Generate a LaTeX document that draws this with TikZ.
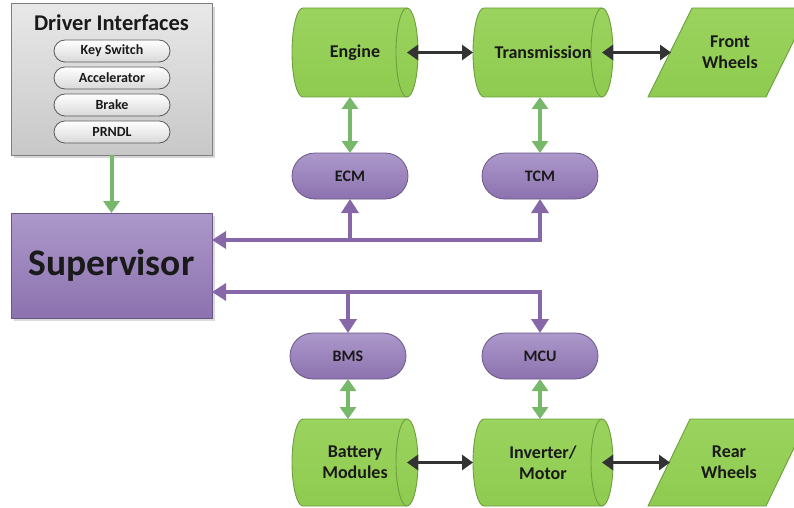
\documentclass[tikz,border=0pt]{standalone}
\usepackage{fontspec}
\setmainfont{Carlito}
\usetikzlibrary{arrows.meta,shapes.misc,calc}

\definecolor{txt}{HTML}{1A1A1A}
\definecolor{grayTop}{HTML}{E8E8E8}
\definecolor{grayBot}{HTML}{C8C8C8}
\definecolor{grayLine}{HTML}{7F7F7F}
\definecolor{pillLine}{HTML}{5A5A5A}
\definecolor{purTop}{HTML}{AC98CA}
\definecolor{purBot}{HTML}{8C72AF}
\definecolor{purLine}{HTML}{6A5787}
\definecolor{purArrow}{HTML}{8667A8}
\definecolor{grnFill}{HTML}{8FCB50}
\definecolor{grnTop}{HTML}{9AD35E}
\definecolor{grnLine}{HTML}{6E9E3E}
\definecolor{grnArrow}{HTML}{78B86A}
\definecolor{darkArrow}{HTML}{333333}

\begin{document}
\begin{tikzpicture}[x=1pt,y=1pt,
  every node/.style={inner sep=0pt,outer sep=0pt,text=txt},
  bfs/.style={font=\bfseries\fontsize{#1}{#1}\selectfont},
  drvbox/.style={rectangle,draw=grayLine,line width=1pt,top color=grayTop,bottom color=grayBot,
    minimum width=201pt,minimum height=151pt},
  pill/.style={rounded rectangle,draw=pillLine,line width=0.8pt,top color=white,bottom color=grayTop!85!gray,
    minimum width=116pt,minimum height=22pt,bfs=14},
  supbox/.style={rectangle,draw=purLine,line width=0.8pt,top color=purTop,bottom color=purBot,
    minimum width=201pt,minimum height=105pt,bfs=37.5},
  ctl/.style={rounded rectangle,draw=purLine,line width=0.8pt,top color=purTop,bottom color=purBot,
    minimum width=116pt,minimum height=46pt,bfs=16},
  shell/.style={draw=grnLine,line width=0.9pt,top color=grnTop,bottom color=grnFill},
  rim/.style={draw=grnLine,line width=0.9pt},
  lbl/.style={rectangle,align=center,bfs=18,execute at begin node={\setlength{\baselineskip}{21pt}}},
  garr/.style={draw=grnArrow,line width=4pt,{Triangle[length=12pt,width=16pt]}-{Triangle[length=12pt,width=16pt]}},
  parr/.style={draw=purArrow,line width=4.5pt,line join=miter},
  ptip/.style={-{Triangle[length=14pt,width=17pt]}},
  ptips/.style={{Triangle[length=14pt,width=17pt]}-{Triangle[length=14pt,width=17pt]}},
  barr/.style={draw=darkArrow,line width=3.3pt,{Triangle[length=11pt,width=15pt]}-{Triangle[length=11pt,width=15pt]}}
]
\useasboundingbox (0,0) rectangle (794,507);
\clip (0,0) rectangle (794,507);

% ---------- driver interfaces ----------
\fill[black!40,opacity=.4] (14,349) rectangle (215,500);
\node[drvbox] (drv) at (111.5,427.5) {};
\node[bfs=22.5] (drvtitle) at (111.5,484) {Driver Interfaces};
\node[pill] (key) at (112,456) {Key Switch};
\node[pill] (acc) at (112,429) {Accelerator};
\node[pill] (brk) at (112,402) {Brake};
\node[pill] (prn) at (112,375) {PRNDL};

% ---------- supervisor ----------
\fill[black!40,opacity=.35] (14,186) rectangle (215,291);
\node[supbox] (sup) at (111.5,241.5) {Supervisor};

% ---------- control modules ----------
\node[ctl] (ecm) at (350,331) {ECM};
\node[ctl] (tcm) at (540,331) {TCM};
\node[ctl] (bms) at (348,151) {BMS};
\node[ctl] (mcu) at (540,151) {MCU};

% ---------- front drivetrain (cylinders + wheels) ----------
% Engine
\path[shell] (303,499) -- (407,499) arc[start angle=90,end angle=-90,x radius=11,y radius=44.5]
  -- (303,410) arc[start angle=270,end angle=90,x radius=11,y radius=44.5] -- cycle;
\draw[rim] (407,499) arc[start angle=90,end angle=270,x radius=11,y radius=44.5];
\node[lbl,minimum width=126pt,minimum height=89pt] (eng) at (355,454.5) {Engine};
% Transmission
\path[shell] (484,499) -- (602,499) arc[start angle=90,end angle=-90,x radius=11,y radius=44.5]
  -- (484,410) arc[start angle=270,end angle=90,x radius=11,y radius=44.5] -- cycle;
\draw[rim] (602,499) arc[start angle=90,end angle=270,x radius=11,y radius=44.5];
\node[lbl,minimum width=140pt,minimum height=89pt] (trn) at (543,454.5) {Transmission};
% Front wheels
\path[shell] (648,410) -- (692,499) -- (810,499) -- (766,410) -- cycle;
\node[lbl,minimum width=118pt,minimum height=89pt] (fw) at (730,454.5) {Front\\Wheels};

% ---------- rear drivetrain ----------
% Battery modules
\path[shell] (303,88) -- (407,88) arc[start angle=90,end angle=-90,x radius=11,y radius=43.5]
  -- (303,1) arc[start angle=270,end angle=90,x radius=11,y radius=43.5] -- cycle;
\draw[rim] (407,88) arc[start angle=90,end angle=270,x radius=11,y radius=43.5];
\node[lbl,minimum width=126pt,minimum height=87pt] (bat) at (355,44.5) {Battery\\Modules};
% Inverter / motor
\path[shell] (484,88) -- (602,88) arc[start angle=90,end angle=-90,x radius=11,y radius=43.5]
  -- (484,1) arc[start angle=270,end angle=90,x radius=11,y radius=43.5] -- cycle;
\draw[rim] (602,88) arc[start angle=90,end angle=270,x radius=11,y radius=43.5];
\node[lbl,minimum width=140pt,minimum height=87pt] (inv) at (543,44.5) {Inverter/\\Motor};
% Rear wheels
\path[shell] (648,1) -- (690,88) -- (808,88) -- (766,1) -- cycle;
\node[lbl,minimum width=118pt,minimum height=87pt] (rw) at (729,44.5) {Rear\\Wheels};

% ---------- connectors ----------
% driver inputs to supervisor
\draw[draw=grnArrow,line width=4pt,-{Triangle[length=12pt,width=16pt]}] (drv.south) -- (sup.north);

% mechanical links
\draw[barr] ([xshift=-11pt]eng.east) -- (trn.west);
\draw[barr] ([xshift=-11pt]trn.east) -- (fw.west);
\draw[barr] ([xshift=-11pt]bat.east) -- (inv.west);
\draw[barr] ([xshift=-11pt]inv.east) -- (rw.west);

% module to hardware links
\draw[garr] (ecm.north) -- (ecm.north |- eng.south);
\draw[garr] (tcm.north) -- (tcm.north |- trn.south);
\draw[garr] (bms.south) -- (bms.south |- bat.north);
\draw[garr] (mcu.south) -- (mcu.south |- inv.north);

% supervisor buses
\coordinate (busT) at (0,267);
\coordinate (busB) at (0,215);
\draw[parr,ptips] (tcm.south) |- (sup.east |- busT);
\draw[parr,ptip] (ecm.south |- busT) -- (ecm.south);
\draw[parr,ptips] (mcu.north) |- (sup.east |- busB);
\draw[parr,ptip] (bms.north |- busB) -- (bms.north);
\end{tikzpicture}
\end{document}
